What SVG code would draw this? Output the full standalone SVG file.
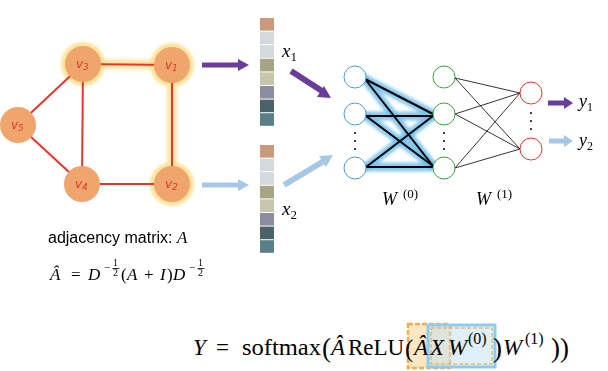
<svg xmlns="http://www.w3.org/2000/svg" width="608" height="371" viewBox="0 0 608 371">
<style>
.gnode{fill:#F0A56E}
.edge{stroke:#E8352A;stroke-width:2}
.glow{stroke:#FBE29A;stroke-width:10;stroke-linecap:round;opacity:0.85}
.lbl{font-family:"DejaVu Sans",sans-serif;font-style:italic;font-size:12px;fill:#E03A2A}
.m{font-family:"Liberation Serif",serif;font-style:italic;fill:#000}
.r{font-family:"Liberation Serif",serif;fill:#000}
.sans{font-family:"Liberation Sans",Arial,sans-serif;fill:#000}
.l1{fill:#fff;stroke:#4A9BE0;stroke-width:1}
.l2{fill:#fff;stroke:#3BA33B;stroke-width:1}
.l3{fill:#fff;stroke:#E8352A;stroke-width:1}
.bglow{stroke:#6DBDEB;stroke-width:9;stroke-linecap:round;opacity:0.8}
.w0{stroke:#000;stroke-width:2}
.w1{stroke:#000;stroke-width:0.8}
.dot{fill:#000}
</style>
<defs>
<filter id="blur" x="-50%" y="-50%" width="200%" height="200%"><feGaussianBlur stdDeviation="1.8"/></filter>
</defs>

<g id="highlight" filter="url(#blur)">
<line class="glow" x1="83" y1="64" x2="172" y2="65"/>
<line class="glow" x1="172" y1="65" x2="172" y2="184"/>
<circle cx="83" cy="64" r="22" fill="#FBE29A"/>
<circle cx="172" cy="65" r="22" fill="#FBE29A"/>
<circle cx="172" cy="184" r="22" fill="#FBE29A"/>
</g>

<g id="connectors">
<line class="edge" x1="83" y1="64" x2="172" y2="65"/>
<line class="edge" x1="172" y1="65" x2="172" y2="184"/>
<line class="edge" x1="83" y1="64" x2="18" y2="125"/>
<line class="edge" x1="83" y1="64" x2="82" y2="184"/>
<line class="edge" x1="18" y1="125" x2="82" y2="184"/>
<line class="edge" x1="82" y1="184" x2="172" y2="184"/>

<line x1="202" y1="65" x2="240" y2="65" stroke="#6A3D9A" stroke-width="5"/>
<polygon points="238,59 249,65 238,71" fill="#6A3D9A"/>
<line x1="202" y1="185" x2="240" y2="185" stroke="#A6C8E6" stroke-width="5"/>
<polygon points="238,179 249,185 238,191" fill="#A6C8E6"/>

<line x1="291" y1="71" x2="322" y2="91" stroke="#6A3D9A" stroke-width="6"/>
<polygon points="317,97 331,98 324,86" fill="#6A3D9A"/>
<line x1="284" y1="185" x2="324" y2="161" stroke="#A6C8E6" stroke-width="6"/>
<polygon points="319,156 333,155 326,167" fill="#A6C8E6"/>

<g filter="url(#blur)">
<line class="bglow" x1="365" y1="79" x2="433" y2="114"/>
<line class="bglow" x1="365" y1="79" x2="433" y2="166"/>
<line class="bglow" x1="366" y1="116" x2="433" y2="116"/>
<line class="bglow" x1="366" y1="116" x2="433" y2="166"/>
<line class="bglow" x1="366" y1="167" x2="433" y2="116"/>
<line class="bglow" x1="366" y1="167" x2="433" y2="167"/>
</g>
<line class="w0" x1="365" y1="79" x2="433" y2="114"/>
<line class="w0" x1="365" y1="79" x2="433" y2="166"/>
<line class="w0" x1="366" y1="116" x2="433" y2="116"/>
<line class="w0" x1="366" y1="116" x2="433" y2="166"/>
<line class="w0" x1="366" y1="167" x2="433" y2="116"/>
<line class="w0" x1="366" y1="167" x2="433" y2="167"/>

<line class="w1" x1="455" y1="78" x2="520" y2="93"/>
<line class="w1" x1="455" y1="78" x2="520" y2="149"/>
<line class="w1" x1="455" y1="114" x2="520" y2="93"/>
<line class="w1" x1="455" y1="114" x2="520" y2="149"/>
<line class="w1" x1="455" y1="168" x2="520" y2="93"/>
<line class="w1" x1="455" y1="168" x2="520" y2="149"/>

<line x1="548" y1="103" x2="566" y2="103" stroke="#6A3D9A" stroke-width="5"/>
<polygon points="564,97 573,103 564,109" fill="#6A3D9A"/>
<line x1="549" y1="141" x2="566" y2="141" stroke="#A6C8E6" stroke-width="5"/>
<polygon points="564,135 573,141 564,147" fill="#A6C8E6"/>
</g>

<g id="v3"><circle class="gnode" cx="83" cy="64" r="18"/><text class="lbl" x="76" y="68">v<tspan font-size="9" dy="2">3</tspan></text></g>
<g id="v1"><circle class="gnode" cx="172" cy="65" r="18"/><text class="lbl" x="165" y="69">v<tspan font-size="9" dy="2">1</tspan></text></g>
<g id="v5"><circle class="gnode" cx="18" cy="125" r="18"/><text class="lbl" x="11" y="129">v<tspan font-size="9" dy="2">5</tspan></text></g>
<g id="v4"><circle class="gnode" cx="82" cy="184" r="18"/><text class="lbl" x="75" y="188">v<tspan font-size="9" dy="2">4</tspan></text></g>
<g id="v2"><circle class="gnode" cx="172" cy="184" r="18"/><text class="lbl" x="165" y="188">v<tspan font-size="9" dy="2">2</tspan></text></g>

<g id="x1vec">
<rect x="260" y="18" width="14" height="12.6" fill="#C89B7E"/>
<rect x="260" y="31.6" width="14" height="12.6" fill="#D3D9DC"/>
<rect x="260" y="45.2" width="14" height="12.6" fill="#D3D9DC"/>
<rect x="260" y="58.8" width="14" height="12.6" fill="#A6A686"/>
<rect x="260" y="72.4" width="14" height="12.6" fill="#C6C6AC"/>
<rect x="260" y="86" width="14" height="12.6" fill="#8E8CA0"/>
<rect x="260" y="99.6" width="14" height="12.6" fill="#4A636B"/>
<rect x="260" y="113.2" width="14" height="12.6" fill="#5B7F88"/>
<text class="m" x="282" y="57" font-size="19">x<tspan font-style="normal" font-size="13" dy="4">1</tspan></text>
</g>
<g id="x2vec">
<rect x="260" y="145" width="14" height="12.6" fill="#C89B7E"/>
<rect x="260" y="158.6" width="14" height="12.6" fill="#D3D9DC"/>
<rect x="260" y="172.2" width="14" height="12.6" fill="#D3D9DC"/>
<rect x="260" y="185.8" width="14" height="12.6" fill="#A6A686"/>
<rect x="260" y="199.4" width="14" height="12.6" fill="#C6C6AC"/>
<rect x="260" y="213" width="14" height="12.6" fill="#8E8CA0"/>
<rect x="260" y="226.6" width="14" height="12.6" fill="#4A636B"/>
<rect x="260" y="240.2" width="14" height="12.6" fill="#5B7F88"/>
<text class="m" x="282" y="215" font-size="19">x<tspan font-style="normal" font-size="13" dy="4">2</tspan></text>
</g>

<g id="layer0">
<circle class="l1" cx="355" cy="77" r="11"/>
<circle class="l1" cx="355" cy="114" r="11"/>
<circle class="l1" cx="355" cy="168" r="11"/>
<circle class="dot" cx="355" cy="133" r="1"/><circle class="dot" cx="355" cy="141" r="1"/><circle class="dot" cx="355" cy="149" r="1"/>
</g>
<g id="layer1">
<circle class="l2" cx="444" cy="77" r="11"/>
<circle class="l2" cx="444" cy="114" r="11"/>
<circle class="l2" cx="444" cy="168" r="11"/>
<circle class="dot" cx="444" cy="133" r="1"/><circle class="dot" cx="444" cy="141" r="1"/><circle class="dot" cx="444" cy="149" r="1"/>
</g>
<g id="layer2">
<circle class="l3" cx="531" cy="93" r="11"/>
<circle class="l3" cx="531" cy="149" r="11"/>
<circle class="dot" cx="531" cy="113" r="1"/><circle class="dot" cx="531" cy="121" r="1"/><circle class="dot" cx="531" cy="129" r="1"/>
</g>

<g id="labels">
<text class="m" x="382" y="205" font-size="18">W</text><text class="r" x="403" y="198" font-size="13">(0)</text>
<text class="m" x="476" y="205" font-size="18">W</text><text class="r" x="497" y="198" font-size="13">(1)</text>
<text class="m" x="579" y="107" font-size="18">y<tspan font-style="normal" font-size="12" dy="4">1</tspan></text>
<text class="m" x="579" y="146" font-size="18">y<tspan font-style="normal" font-size="12" dy="4">2</tspan></text>

<text class="sans" x="48" y="243" font-size="16">adjacency matrix: <tspan font-family="Liberation Serif" font-style="italic" font-size="17">A</tspan></text>

<text class="m" x="50" y="280" font-size="17">Â</text>
<text class="r" x="71" y="280" font-size="17">=</text>
<text class="m" x="88" y="280" font-size="17">D</text>
<text class="r" x="104" y="271" font-size="11">−</text>
<text class="r" x="113" y="266" font-size="10">1</text>
<line x1="112.5" y1="268.5" x2="119.5" y2="268.5" stroke="#000" stroke-width="0.8"/>
<text class="r" x="113" y="276" font-size="10">2</text>
<text class="r" x="121" y="280" font-size="17">(</text>
<text class="m" x="127" y="280" font-size="17">A</text>
<text class="r" x="144" y="280" font-size="17">+</text>
<text class="m" x="160" y="280" font-size="17">I</text>
<text class="r" x="167" y="280" font-size="17">)</text>
<text class="m" x="173" y="280" font-size="17">D</text>
<text class="r" x="189" y="271" font-size="11">−</text>
<text class="r" x="198" y="266" font-size="10">1</text>
<line x1="197.5" y1="268.5" x2="204.5" y2="268.5" stroke="#000" stroke-width="0.8"/>
<text class="r" x="198" y="276" font-size="10">2</text>
</g>

<g id="formula">
<rect x="408" y="324" width="42" height="44" fill="#FBD79B" opacity="0.6"/>
<rect x="408" y="324" width="42" height="44" fill="none" stroke="#F3B04A" stroke-width="2.5" stroke-dasharray="5 2"/>
<rect x="428" y="325" width="67" height="42" fill="#BFE1F5" opacity="0.5"/>
<rect x="428" y="325" width="67" height="42" fill="none" stroke="#8DCBEF" stroke-width="3"/>
<rect x="431" y="328" width="61" height="36" fill="none" stroke="#F0A030" stroke-width="1" stroke-dasharray="4 2"/>
<text class="m" x="193" y="355" font-size="23">Y</text>
<text class="r" x="216" y="355" font-size="23">=</text>
<text class="r" x="242" y="355" font-size="23" textLength="79" lengthAdjust="spacingAndGlyphs">softmax</text>
<text class="r" x="322" y="357" font-size="27">(</text>
<text class="m" x="331" y="355" font-size="23">Â</text>
<text class="r" x="348" y="355" font-size="23">ReLU</text>
<text class="r" x="405" y="357" font-size="25">(</text>
<text class="m" x="414" y="355" font-size="23">Â</text>
<text class="m" x="430" y="355" font-size="23">X</text>
<text class="m" x="448" y="355" font-size="23">W</text>
<text class="r" x="468" y="344" font-size="16">(0)</text>
<text class="r" x="493" y="357" font-size="27">)</text>
<text class="m" x="503" y="355" font-size="23">W</text>
<text class="r" x="525" y="344" font-size="16">(1)</text>
<text class="r" x="551" y="357" font-size="27">))</text>
</g>
</svg>
